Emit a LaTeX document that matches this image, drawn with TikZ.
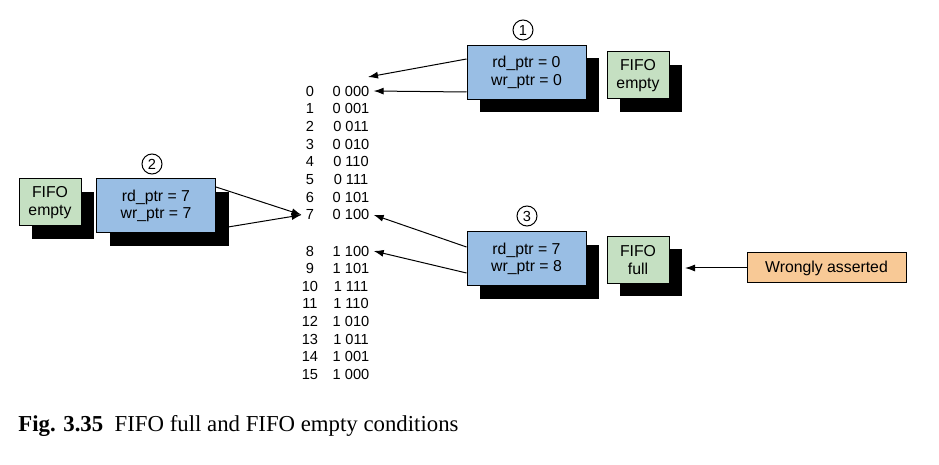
\documentclass[tikz,border=0pt]{standalone}
\usepackage{fontspec}
\setmainfont{Liberation Sans}
\newfontfamily\capfont{Liberation Serif}
\usetikzlibrary{shadows,arrows.meta}

\definecolor{ptrblue}{RGB}{153,190,228}
\definecolor{flaggreen}{RGB}{197,224,194}
\definecolor{noteorange}{RGB}{248,201,150}

\tikzset{
  boxshadow/.style={drop shadow={shadow xshift=6.5pt,shadow yshift=-6.5pt,fill=black,opacity=1}},
  ptrbox/.style={shape=rectangle,draw=black,fill=ptrblue,boxshadow,align=center,line width=0.5pt,
    minimum width=59.5pt,minimum height=27pt,inner sep=0pt,font=\fontsize{7.9}{8.8}\selectfont},
  flagbox/.style={shape=rectangle,draw=black,fill=flaggreen,boxshadow,align=center,line width=0.5pt,
    minimum width=31pt,minimum height=23.5pt,inner sep=0pt,font=\fontsize{7.9}{8.8}\selectfont},
  notebox/.style={shape=rectangle,draw=black,fill=noteorange,align=center,line width=0.5pt,
    minimum width=79.5pt,minimum height=15pt,inner sep=0pt,font=\fontsize{7.9}{8.8}\selectfont},
  stepnum/.style={shape=circle,draw=black,line width=0.5pt,inner sep=0pt,minimum size=10pt,
    font=\fontsize{7.3}{8}\selectfont},
  rowtext/.style={inner sep=2pt,font=\fontsize{7.3}{8}\selectfont},
  arr/.style={-{Latex[length=5pt,width=3.5pt]},draw=black,line width=0.5pt},
}

\begin{document}
\begin{tikzpicture}[x=0.5pt,y=-0.5pt]
\useasboundingbox (0,0) rectangle (939,465);

\foreach \n/\code/\y in {0/0 000/91, 1/0 001/108.7, 2/0 011/126.4, 3/0 010/144.1,
    4/0 110/161.8, 5/0 111/179.5, 6/0 101/197.2, 7/0 100/214.9,
    8/1 100/251, 9/1 101/268.6, 10/1 111/286.2, 11/1 110/303.8,
    12/1 010/321.4, 13/1 011/339, 14/1 001/356.6, 15/1 000/374.2}{
  \node[rowtext] (idx\n) at (310,\y) {\n};
  \node[rowtext] (code\n) at (351,\y) {\code};
}

\node[ptrbox] (ptr1) at (526.5,72.5) {rd\_ptr = 0\\wr\_ptr = 0};
\node[flagbox] (flag1) at (638,75.5) {FIFO\\empty};
\node[stepnum] (step1) at (523,30) {1};

\node[ptrbox] (ptr2) at (156,206) {rd\_ptr = 7\\wr\_ptr = 7};
\node[flagbox] (flag2) at (50,202.5) {FIFO\\empty};
\node[stepnum] (step2) at (152,164) {2};

\node[ptrbox] (ptr3) at (526.5,259) {rd\_ptr = 7\\wr\_ptr = 8};
\node[flagbox] (flag3) at (638,260) {FIFO\\full};
\node[stepnum] (step3) at (527,216) {3};

\node[notebox] (wrong) at (826.5,268) {Wrongly asserted};

\coordinate (top0) at (368,77);
\coordinate (full3) at (685,268);

\draw [arr] ([yshift=6.75pt]ptr1.west) -- (top0);
\draw [arr] ([yshift=-9.75pt]ptr1.west) -- (code0.east);
\draw [arr] ([yshift=9.5pt]ptr2.east) -- (idx7.west);
\draw [arr] ([yshift=-11.5pt]ptr2.east) -- (idx7.west);
\draw [arr] ([yshift=6pt]ptr3.west) -- (code7.east);
\draw [arr] ([yshift=-7pt]ptr3.west) -- (code8.east);
\draw [arr] (wrong.west) -- (full3);

\node[anchor=west,inner sep=0pt,font=\capfont\fontsize{11.4}{14}\selectfont] (caption) at (18,426)
  {\textbf{Fig. 3.35}\hspace{0.5em}FIFO full and FIFO empty conditions};
\end{tikzpicture}
\end{document}
